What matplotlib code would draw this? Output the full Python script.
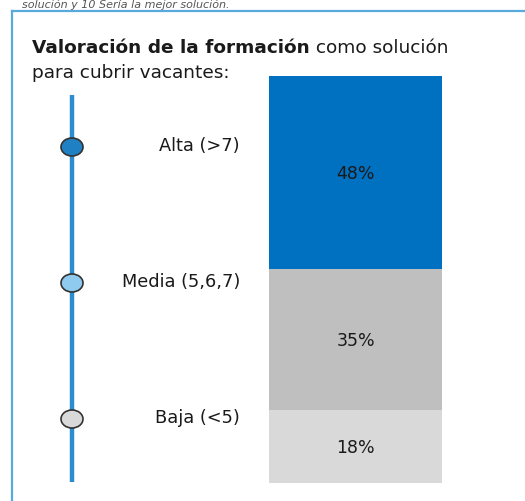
import matplotlib.pyplot as plt
from matplotlib.patches import Ellipse

plt.rcParams['font.family'] = ['DejaVu Sans']

categories = ['Baja (<5)', 'Media (5,6,7)', 'Alta (>7)']
values = [18, 35, 48]
colors = ['#d9d9d9', '#bfbfbf', '#0070c0']
dot_colors = ['#d9d9d9', '#8fcbef', '#1f80c4']

W, H = 525, 502
fig = plt.figure(figsize=(W / 100, H / 100), dpi=100)

# background layer in pixel coordinates
bg = fig.add_axes([0, 0, 1, 1])
bg.set_xlim(0, W)
bg.set_ylim(H, 0)
bg.axis('off')

# frame (top and left edges)
bg.plot([12, W], [12, 12], color='#5aa9dd', lw=1.6)
bg.plot([12, 12], [12, H], color='#5aa9dd', lw=1.6)

bg.text(22, 0, 'solución y 10 Sería la mejor solución.', fontsize=8,
        style='italic', color='#555555', va='top')

t1 = bg.text(32, 48, 'Valoración de la formación', fontsize=13.3, fontweight='bold',
             color='#1a1a1a', va='center')
fig.canvas.draw()
bb = t1.get_window_extent()
x_end = bb.x1 * W / fig.bbox.width
bg.text(x_end, 48, ' como solución', fontsize=13.3, color='#1a1a1a', va='center')
bg.text(32, 73, 'para cubrir vacantes:', fontsize=13.3, color='#1a1a1a', va='center')

# timeline
bg.plot([72, 72], [96, 483], color='#2b8ccf', lw=3.2, solid_capstyle='butt', zorder=1)
dot_y = [420, 284, 148]
for cat, y, c in zip(categories, dot_y, dot_colors):
    bg.add_patch(Ellipse((72, y), 22, 18, facecolor=c, edgecolor='#333333', lw=1.2, zorder=2))
    bg.text(240, y - 2, cat, fontsize=12.8, ha='right', va='center', color='#1a1a1a')

# stacked bar
ax = fig.add_axes([269 / W, 1 - 484 / H, (442 - 269) / W, (484 - 77) / H])
bottom = 0
for v, c in zip(values, colors):
    ax.bar(0, v, bottom=bottom, width=1, color=c, edgecolor='none')
    ax.text(0, bottom + v / 2, f'{v}%', ha='center', va='center', fontsize=12.5, color='#1a1a1a')
    bottom += v
ax.set_xlim(-0.5, 0.5)
ax.set_ylim(0, sum(values))
ax.axis('off')

fig.savefig('out.png', dpi=100)
